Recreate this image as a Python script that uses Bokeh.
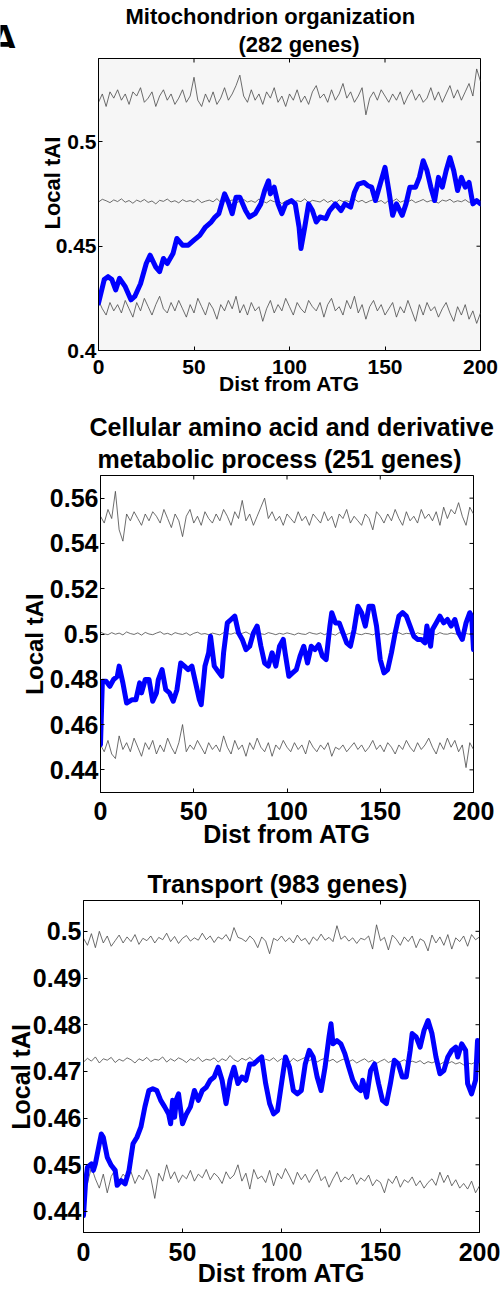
from math import pi
from bokeh.plotting import figure
from bokeh.models import Range1d, FixedTicker, Title
from bokeh.core.properties import value
from bokeh.embed import file_html
from bokeh.resources import INLINE

FONT = "Liberation Sans"
NBSP = "\u00a0"

# ---------------- data ----------------
x_ticks = [0, 50, 100, 150, 200]
gray_x = list(range(0, 201, 2))

panel_letter = "A"
x_label = "Dist from ATG"
y_label = "Local tAI"

# Panel 1: Mitochondrion organization (282 genes)
p1_title = ["Mitochondrion organization", "(282 genes)"]
p1_yticks = [0.4, 0.45, 0.5]
p1_ylabels = ["0.4", "0.45", "0.5"]
p1_blue_x = [0, 3, 5, 7, 9, 11, 14, 17, 19, 22, 25, 27, 30, 32, 34, 36, 39, 41, 44, 47, 50, 53, 56, 59, 61, 63,
             66, 68, 70, 72, 74, 77, 79, 82, 85, 87, 89, 90, 92, 94, 96, 98, 101, 103, 105, 106, 108, 110, 112,
             114, 116, 119, 121, 124, 127, 129, 132, 134, 136, 139, 141, 143, 145, 147, 150, 152, 154, 156, 159,
             161, 163, 166, 168, 170, 172, 174, 176, 178, 180, 182, 184, 186, 188, 190, 192, 194, 196, 198, 200]
p1_blue_y = [0.4227, 0.434, 0.4354, 0.434, 0.429, 0.4346, 0.4306, 0.4243, 0.4259, 0.432, 0.4417, 0.4457, 0.440,
             0.4378, 0.4441, 0.4417, 0.4465, 0.4537, 0.4505, 0.4505, 0.4529, 0.4552, 0.4592, 0.4616, 0.464, 0.4656,
             0.4751, 0.4711, 0.4656, 0.4735, 0.4735, 0.4671, 0.464, 0.4656, 0.4703, 0.4767, 0.4814, 0.4751, 0.4783,
             0.4703, 0.4656, 0.4703, 0.4719, 0.4703, 0.4592, 0.4489, 0.4592, 0.4703, 0.4671, 0.4616, 0.464, 0.4632,
             0.4671, 0.4703, 0.4671, 0.4703, 0.4687, 0.4759, 0.4798, 0.4806, 0.479, 0.4783, 0.4719, 0.4783, 0.4878,
             0.4767, 0.4648, 0.4703, 0.4648, 0.4703, 0.4783, 0.4783, 0.483, 0.491, 0.4862, 0.4783, 0.4719, 0.483,
             0.4783, 0.4862, 0.4925, 0.4862, 0.4767, 0.483, 0.4783, 0.4806, 0.4703, 0.4719, 0.4703]
p1_up = [0.519, 0.523, 0.517, 0.524, 0.521, 0.525, 0.520, 0.523, 0.518, 0.524,
         0.522, 0.526, 0.519, 0.521, 0.524, 0.517, 0.522, 0.525, 0.520, 0.523,
         0.518, 0.521, 0.525, 0.519, 0.522, 0.531, 0.520, 0.517, 0.523, 0.519,
         0.524, 0.518, 0.521, 0.526, 0.520, 0.523, 0.527, 0.532, 0.522, 0.519,
         0.525, 0.520, 0.523, 0.518, 0.524, 0.521, 0.526, 0.519, 0.522, 0.517,
         0.523, 0.520, 0.525, 0.519, 0.522, 0.518, 0.524, 0.527, 0.521, 0.523,
         0.519, 0.525, 0.520, 0.523, 0.528, 0.521, 0.524, 0.519, 0.522, 0.526,
         0.513, 0.521, 0.524, 0.520, 0.525, 0.522, 0.519, 0.523, 0.520, 0.524,
         0.518, 0.522, 0.525, 0.520, 0.523, 0.519, 0.521, 0.526, 0.520, 0.524,
         0.519, 0.523, 0.527, 0.521, 0.525, 0.520, 0.524, 0.528, 0.522, 0.535,
         0.529]
p1_mid = [0.4712, 0.4725, 0.4718, 0.4709, 0.4722, 0.4714, 0.4727, 0.4711, 0.4719, 0.4706,
          0.4721, 0.4713, 0.4724, 0.4710, 0.4717, 0.4703, 0.4720, 0.4715, 0.4726, 0.4712,
          0.4718, 0.4708, 0.4723, 0.4714, 0.4719, 0.4711, 0.4725, 0.4709, 0.4716, 0.4721,
          0.4713, 0.4728, 0.4710, 0.4719, 0.4714, 0.4722, 0.4706, 0.4717, 0.4724, 0.4712,
          0.4718, 0.4710, 0.4726, 0.4715, 0.4708, 0.4721, 0.4713, 0.4719, 0.4704, 0.4717,
          0.4723, 0.4711, 0.4718, 0.4714, 0.4727, 0.4709, 0.4720, 0.4716, 0.4712, 0.4724,
          0.4710, 0.4719, 0.4706, 0.4722, 0.4714, 0.4718, 0.4711, 0.4726, 0.4713, 0.4720,
          0.4708, 0.4717, 0.4723, 0.4712, 0.4719, 0.4705, 0.4721, 0.4715, 0.4727, 0.4711,
          0.4718, 0.4713, 0.4722, 0.4709, 0.4716, 0.4724, 0.4712, 0.4719, 0.4714, 0.4707,
          0.4721, 0.4716, 0.4725, 0.4711, 0.4718, 0.4713, 0.4723, 0.4710, 0.4717, 0.4720,
          0.4714]
p1_low = [0.424, 0.420, 0.417, 0.423, 0.419, 0.422, 0.418, 0.424, 0.420, 0.416,
          0.423, 0.419, 0.425, 0.421, 0.417, 0.422, 0.426, 0.420, 0.418, 0.423,
          0.419, 0.424, 0.420, 0.416, 0.422, 0.418, 0.425, 0.421, 0.417, 0.423,
          0.420, 0.415, 0.422, 0.419, 0.424, 0.420, 0.426, 0.418, 0.422, 0.417,
          0.423, 0.419, 0.421, 0.414, 0.420, 0.424, 0.418, 0.422, 0.419, 0.425,
          0.421, 0.417, 0.423, 0.420, 0.418, 0.424, 0.421, 0.419, 0.423, 0.416,
          0.422, 0.425, 0.419, 0.421, 0.417, 0.424, 0.420, 0.426, 0.418, 0.422,
          0.415, 0.421, 0.424, 0.419, 0.422, 0.417, 0.420, 0.423, 0.416, 0.421,
          0.418, 0.424, 0.419, 0.414, 0.422, 0.417, 0.423, 0.419, 0.421, 0.416,
          0.420, 0.423, 0.418, 0.414, 0.421, 0.417, 0.422, 0.415, 0.419, 0.413,
          0.418]

# Panel 2: Cellular amino acid and derivative metabolic process (251 genes)
p2_title = ["Cellular amino acid and derivative", "metabolic process (251 genes)"]
p2_yticks = [0.44, 0.46, 0.48, 0.5, 0.52, 0.54, 0.56]
p2_ylabels = ["0.44", "0.46", "0.48", "0.5", "0.52", "0.54", "0.56"]
p2_blue_x = [0, 1, 3, 5, 7, 9, 10, 12, 14, 17, 19, 21, 22, 24, 26, 28, 30, 31, 33, 35, 37, 39, 41, 43, 45, 47,
             49, 51, 53, 54, 56, 58, 59, 61, 63, 65, 66, 68, 70, 72, 74, 76, 78, 80, 82, 84, 86, 88, 90, 92, 94,
             96, 98, 99, 101, 103, 105, 107, 109, 111, 113, 115, 117, 119, 121, 123, 124, 126, 128, 130, 132,
             134, 136, 138, 140, 142, 144, 146, 148, 150, 152, 154, 156, 158, 160, 162, 164, 166, 168, 170, 172,
             174, 175, 177, 178, 180, 182, 184, 186, 188, 190, 192, 194, 196, 198, 199, 200]
p2_blue_y = [0.4511, 0.4791, 0.4791, 0.4769, 0.4799, 0.4813, 0.4858, 0.4784, 0.4695, 0.471, 0.471, 0.4784, 0.474,
             0.4799, 0.4799, 0.4703, 0.474, 0.4799, 0.4843, 0.4754, 0.474, 0.4703, 0.4754, 0.4872, 0.4858, 0.4843,
             0.4858, 0.4784, 0.471, 0.4688, 0.4858, 0.4917, 0.499, 0.4858, 0.4835, 0.4813, 0.4917, 0.5049, 0.5064,
             0.5079, 0.5005, 0.4976, 0.4931, 0.4946, 0.5005, 0.5035, 0.4946, 0.4872, 0.4858, 0.4917, 0.4858,
             0.4946, 0.4976, 0.4917, 0.4813, 0.4828, 0.4843, 0.4902, 0.4946, 0.4872, 0.4946, 0.4931, 0.4953,
             0.4902, 0.4887, 0.5035, 0.5094, 0.5049, 0.5049, 0.5005, 0.4961, 0.4946, 0.502, 0.5123, 0.5094,
             0.5035, 0.5123, 0.5123, 0.5035, 0.4887, 0.4828, 0.4843, 0.4917, 0.5005, 0.5079, 0.5094, 0.5079,
             0.5035, 0.499, 0.4976, 0.4976, 0.4961, 0.5035, 0.4946, 0.502, 0.5049, 0.5079, 0.5049, 0.5064, 0.5035,
             0.5064, 0.5005, 0.4976, 0.5049, 0.5094, 0.5079, 0.4931]
p2_up = [0.552, 0.549, 0.555, 0.551, 0.563, 0.546, 0.541, 0.553, 0.550, 0.554,
         0.551, 0.548, 0.553, 0.550, 0.554, 0.552, 0.549, 0.555, 0.551, 0.547,
         0.553, 0.550, 0.543, 0.552, 0.555, 0.549, 0.552, 0.548, 0.554, 0.551,
         0.549, 0.553, 0.550, 0.555, 0.552, 0.548, 0.554, 0.551, 0.559, 0.550,
         0.553, 0.548, 0.552, 0.556, 0.560, 0.551, 0.554, 0.550, 0.552, 0.548,
         0.553, 0.551, 0.549, 0.554, 0.550, 0.552, 0.548, 0.553, 0.551, 0.549,
         0.554, 0.550, 0.552, 0.547, 0.553, 0.551, 0.555, 0.549, 0.552, 0.550,
         0.548, 0.553, 0.551, 0.546, 0.554, 0.552, 0.549, 0.553, 0.550, 0.555,
         0.551, 0.548, 0.554, 0.550, 0.552, 0.549, 0.555, 0.551, 0.553, 0.550,
         0.554, 0.548, 0.556, 0.551, 0.555, 0.553, 0.558, 0.552, 0.548, 0.556,
         0.553]
p2_mid = [0.5008, 0.5001, 0.4997, 0.5006, 0.4999, 0.5004, 0.4996, 0.5009, 0.5002, 0.4998,
          0.5005, 0.4995, 0.5007, 0.5000, 0.4997, 0.5004, 0.5010, 0.4999, 0.5003, 0.4996,
          0.5006, 0.5001, 0.4998, 0.5005, 0.4994, 0.5003, 0.5008, 0.4999, 0.5002, 0.4997,
          0.5004, 0.5000, 0.4996, 0.5006, 0.5002, 0.4999, 0.5005, 0.4997, 0.5003, 0.5009,
          0.5000, 0.4995, 0.5004, 0.5001, 0.4998, 0.5006, 0.5002, 0.4997, 0.5003, 0.4999,
          0.5005, 0.5001, 0.4996, 0.5004, 0.5000, 0.4998, 0.5007, 0.5002, 0.4999, 0.5005,
          0.4997, 0.5003, 0.5000, 0.4995, 0.5006, 0.5001, 0.4998, 0.5004, 0.5009, 0.5000,
          0.4997, 0.5003, 0.5001, 0.4996, 0.5005, 0.4999, 0.5002, 0.4997, 0.5004, 0.5000,
          0.5006, 0.4998, 0.5003, 0.5001, 0.4996, 0.5005, 0.5000, 0.4998, 0.5004, 0.5002,
          0.4997, 0.5006, 0.5000, 0.4999, 0.5004, 0.5001, 0.4997, 0.5005, 0.5002, 0.4999,
          0.5003]
p2_low = [0.451, 0.448, 0.453, 0.447, 0.445, 0.455, 0.449, 0.452, 0.448, 0.454,
          0.450, 0.446, 0.452, 0.449, 0.453, 0.447, 0.451, 0.448, 0.454, 0.450,
          0.447, 0.452, 0.460, 0.448, 0.451, 0.449, 0.453, 0.450, 0.447, 0.452,
          0.449, 0.451, 0.448, 0.455, 0.450, 0.447, 0.453, 0.449, 0.451, 0.446,
          0.452, 0.449, 0.454, 0.450, 0.448, 0.452, 0.446, 0.451, 0.449, 0.453,
          0.450, 0.448, 0.452, 0.449, 0.451, 0.447, 0.453, 0.450, 0.448, 0.451,
          0.449, 0.452, 0.446, 0.450, 0.449, 0.451, 0.448, 0.450, 0.452, 0.449,
          0.451, 0.448, 0.450, 0.453, 0.449, 0.451, 0.448, 0.452, 0.450, 0.447,
          0.451, 0.449, 0.453, 0.450, 0.448, 0.452, 0.449, 0.451, 0.454, 0.450,
          0.447, 0.452, 0.449, 0.454, 0.450, 0.453, 0.448, 0.451, 0.441, 0.452,
          0.449]

# Panel 3: Transport (983 genes)
p3_title = ["Transport (983 genes)"]
p3_yticks = [0.44, 0.45, 0.46, 0.47, 0.48, 0.49, 0.5]
p3_ylabels = ["0.44", "0.45", "0.46", "0.47", "0.48", "0.49", "0.5"]
p3_blue_x = [0, 1, 2, 4, 5, 6, 8, 9, 10, 12, 14, 16, 17, 19, 21, 23, 25, 27, 29, 31, 33, 35, 37, 39, 41, 43, 44,
             45, 46, 47, 48, 50, 52, 54, 56, 58, 60, 62, 64, 66, 68, 70, 72, 74, 76, 78, 80, 82, 84, 86, 88, 90,
             92, 94, 96, 98, 100, 102, 104, 106, 108, 110, 112, 114, 116, 118, 120, 122, 124, 125, 126, 128,
             130, 132, 134, 136, 138, 140, 141, 143, 145, 147, 149, 151, 153, 155, 157, 159, 161, 163, 165, 166,
             168, 170, 172, 174, 176, 178, 180, 182, 184, 186, 188, 189, 191, 193, 194, 196, 198, 199, 200]
p3_blue_y = [0.4391, 0.4459, 0.4495, 0.4502, 0.4488, 0.4502, 0.4545, 0.4566, 0.4559, 0.4516, 0.4499, 0.4488,
             0.4456, 0.4466, 0.4459, 0.4488, 0.4545, 0.4559, 0.4581, 0.4624, 0.4659, 0.4663, 0.4659, 0.4638,
             0.4624, 0.4609, 0.4588, 0.4638, 0.4602, 0.4641, 0.4652, 0.4588, 0.4609, 0.4624, 0.4659, 0.4638,
             0.4659, 0.4666, 0.4681, 0.4688, 0.4709, 0.4681, 0.4631, 0.4681, 0.4709, 0.4674, 0.4688, 0.4681,
             0.4716, 0.4716, 0.4724, 0.4731, 0.4674, 0.4631, 0.4609, 0.4616, 0.4674, 0.4731, 0.4709, 0.4659,
             0.4652, 0.4659, 0.4716, 0.4745, 0.4731, 0.4688, 0.4659, 0.4709, 0.4774, 0.4802, 0.4759, 0.4766,
             0.4759, 0.4738, 0.4709, 0.4681, 0.4666, 0.4659, 0.4681, 0.4645, 0.4702, 0.4716, 0.4674, 0.4638,
             0.4631, 0.4674, 0.4724, 0.4716, 0.4688, 0.4688, 0.4745, 0.4781, 0.4774, 0.4752, 0.4788, 0.4809,
             0.4781, 0.4731, 0.4695, 0.4702, 0.4731, 0.4745, 0.4752, 0.4731, 0.4759, 0.4745, 0.4674, 0.4652,
             0.4681, 0.4766, 0.4724]
p3_up = [0.4985, 0.4970, 0.4995, 0.4965, 0.5000, 0.4975, 0.4990, 0.4968, 0.4980, 0.4992,
         0.4975, 0.4988, 0.4978, 0.4993, 0.4972, 0.4985, 0.4980, 0.4990, 0.4975, 0.4987,
         0.4982, 0.4996, 0.4978, 0.4989, 0.4974, 0.4985, 0.4991, 0.4979, 0.4986, 0.4981,
         0.4996, 0.4982, 0.4990, 0.4976, 0.4988, 0.4983, 0.4993, 0.4979, 0.5008, 0.4987,
         0.4984, 0.4978, 0.4990, 0.4982, 0.4965, 0.4988, 0.4979, 0.4952, 0.4985, 0.4980,
         0.4990, 0.4978, 0.4986, 0.4975, 0.4992, 0.4980, 0.4985, 0.4972, 0.4988, 0.4980,
         0.4994, 0.4981, 0.4987, 0.4978, 0.5012, 0.4983, 0.4990, 0.4979, 0.4986, 0.4974,
         0.4985, 0.4982, 0.4990, 0.4962, 0.5014, 0.4980, 0.4987, 0.4960, 0.4992, 0.4983,
         0.4970, 0.4988, 0.4978, 0.4990, 0.4965, 0.4984, 0.4979, 0.4958, 0.4992, 0.4975,
         0.4988, 0.4970, 0.4993, 0.4962, 0.4986, 0.4978, 0.4990, 0.4968, 0.4993, 0.4982,
         0.4988]
p3_mid = [0.4720, 0.4728, 0.4722, 0.4731, 0.4718, 0.4727, 0.4724, 0.4730, 0.4719, 0.4726,
          0.4722, 0.4729, 0.4725, 0.4718, 0.4727, 0.4723, 0.4730, 0.4721, 0.4726, 0.4724,
          0.4731, 0.4720, 0.4727, 0.4722, 0.4729, 0.4725, 0.4719, 0.4727, 0.4723, 0.4730,
          0.4721, 0.4726, 0.4724, 0.4729, 0.4720, 0.4727, 0.4723, 0.4734, 0.4725, 0.4721,
          0.4728, 0.4724, 0.4730, 0.4722, 0.4727, 0.4719, 0.4726, 0.4723, 0.4729, 0.4721,
          0.4727, 0.4724, 0.4719, 0.4728, 0.4722, 0.4726, 0.4730, 0.4723, 0.4727, 0.4720,
          0.4725, 0.4728, 0.4722, 0.4726, 0.4719, 0.4724, 0.4727, 0.4721, 0.4725, 0.4718,
          0.4723, 0.4727, 0.4720, 0.4724, 0.4717, 0.4722, 0.4726, 0.4719, 0.4723, 0.4716,
          0.4721, 0.4725, 0.4718, 0.4722, 0.4719, 0.4723, 0.4716, 0.4721, 0.4718, 0.4722,
          0.4715, 0.4720, 0.4717, 0.4721, 0.4716, 0.4719, 0.4714, 0.4718, 0.4716, 0.4720,
          0.4718]
p3_low = [0.4485, 0.4460, 0.4495, 0.4470, 0.4450, 0.4480, 0.4440, 0.4475, 0.4490, 0.4465,
          0.4480, 0.4470, 0.4485, 0.4460, 0.4478, 0.4468, 0.4490, 0.4472, 0.4428, 0.4482,
          0.4465, 0.4500, 0.4470, 0.4485, 0.4462, 0.4478, 0.4470, 0.4488, 0.4465, 0.4480,
          0.4472, 0.4490, 0.4468, 0.4482, 0.4474, 0.4460, 0.4485, 0.4470, 0.4478, 0.4500,
          0.4465, 0.4482, 0.4448, 0.4490, 0.4470, 0.4476, 0.4462, 0.4488, 0.4455, 0.4482,
          0.4470, 0.4492, 0.4476, 0.4458, 0.4484, 0.4468, 0.4480, 0.4462, 0.4478, 0.4490,
          0.4466, 0.4475, 0.4452, 0.4470, 0.4485, 0.4463, 0.4474, 0.4468, 0.4480, 0.4458,
          0.4472, 0.4465, 0.4478, 0.4455, 0.4468, 0.4462, 0.4440, 0.4470, 0.4460, 0.4476,
          0.4452, 0.4468, 0.4462, 0.4474, 0.4455, 0.4466, 0.4450, 0.4462, 0.4470, 0.4456,
          0.4484, 0.4462, 0.4478, 0.4455, 0.4468, 0.4450, 0.4460, 0.4448, 0.4465, 0.4440,
          0.4455]


def make_panel(height, borders, y_range, yticks, ylabels, titles, title_offsets, title_standoffs,
               tsize, lsize, ylsize, bx, by, grays, bg, yl_text, yl_standoff, xl_standoff,
               tick_standoff, border_alpha=1.0):
    left, right, top, bottom = borders
    p = figure(width=501, height=height, output_backend="svg", toolbar_location=None,
               x_range=Range1d(0, 200), y_range=Range1d(*y_range),
               min_border_left=left, min_border_right=right,
               min_border_top=top, min_border_bottom=bottom,
               background_fill_color=bg, border_fill_color="white",
               border_fill_alpha=border_alpha)
    p.grid.visible = False
    p.outline_line_color = "black"
    p.outline_line_width = 1

    for g in grays:
        p.line(gray_x, g, line_color="#4a4a4a", line_width=1, line_alpha=0.8)
    p.line(bx, by, line_color="#0000ff", line_width=5, line_join="round", line_cap="round")

    # MATLAB-style inward ticks on the top and right edges of the box
    p.scatter([200] * len(yticks), yticks, marker="dash", size=8, line_color="black", line_width=1)
    p.scatter(x_ticks, [y_range[1]] * len(x_ticks), marker="dash", angle=pi / 2, size=8,
              line_color="black", line_width=1)

    for ax in (p.xaxis[0], p.yaxis[0]):
        ax.major_tick_in = 4
        ax.major_tick_out = 0
        ax.minor_tick_line_color = None
        ax.axis_line_color = "black"
        ax.major_tick_line_color = "black"
        ax.major_label_text_font = FONT
        ax.major_label_text_font_style = "bold"
        ax.major_label_text_font_size = lsize
        ax.major_label_text_color = "black"
        ax.axis_label_text_font = FONT
        ax.axis_label_text_font_style = "bold"
        ax.axis_label_text_color = "black"

    xa = p.xaxis[0]
    xa.ticker = FixedTicker(ticks=x_ticks)
    xa.axis_label = x_label
    xa.axis_label_text_font_size = lsize
    xa.axis_label_standoff = xl_standoff
    xa.major_label_standoff = tick_standoff

    ya = p.yaxis[0]
    ya.ticker = FixedTicker(ticks=yticks)
    ya.major_label_overrides = {t: s for t, s in zip(yticks, ylabels)}
    ya.axis_label = yl_text
    ya.axis_label_text_font_size = ylsize
    ya.axis_label_standoff = yl_standoff
    ya.major_label_standoff = 2

    # title rows: the last line sits closest to the frame
    for line, off, so in reversed(list(zip(titles, title_offsets, title_standoffs))):
        p.add_layout(Title(text=line, align="left", offset=off, text_font=FONT,
                           text_font_style="bold", text_font_size=tsize, text_color="black",
                           standoff=so), "above")
    return p


# panel letter: a small transparent strip lying under the top-left corner of panel 1
hA = figure(width=40, height=48, output_backend="svg", toolbar_location=None,
            x_range=Range1d(0, 40), y_range=Range1d(48, 0),
            min_border_left=0, min_border_right=0, min_border_top=0, min_border_bottom=0,
            border_fill_alpha=0, background_fill_alpha=0)
hA.axis.visible = False
hA.grid.visible = False
hA.outline_line_color = None
hA.text(x=[18], y=[39], text=[panel_letter], text_font=value(FONT), text_font_style="bold",
        text_font_size="42px", text_color="black", text_align="right", text_baseline="alphabetic")
hA.styles = {"margin-bottom": "-48px"}

# y-labels are nudged along the axis (as in the original figure) with no-break spaces
f1 = make_panel(410, (98, 21, 58, 60), (0.4, 0.54), p1_yticks, p1_ylabels,
                p1_title, [27, 140], [0, 3],
                "22px", "21px", "22px", p1_blue_x, p1_blue_y, [p1_up, p1_mid, p1_low],
                "#f6f6f6", NBSP * 7 + y_label, -12, -5, 9, border_alpha=0.0)
f2 = make_panel(444, (100, 28, 65, 62), (0.43, 0.57), p2_yticks, p2_ylabels,
                p2_title, [-11, -3], [-3, 6],
                "25px", "25px", "24px", p2_blue_x, p2_blue_y, [p2_up, p2_mid, p2_low],
                "white", y_label + NBSP * 3, -1, -3, 9)
f3 = make_panel(435, (83, 22, 46, 57), (0.4355, 0.5066), p3_yticks, p3_ylabels,
                p3_title, [64], [6],
                "25px", "25px", "25px", p3_blue_x, p3_blue_y, [p3_up, p3_mid, p3_low],
                "white", y_label + NBSP * 3, -5, -5, 10)

open("out.html", "w").write(file_html([hA, f1, f2, f3], INLINE))
